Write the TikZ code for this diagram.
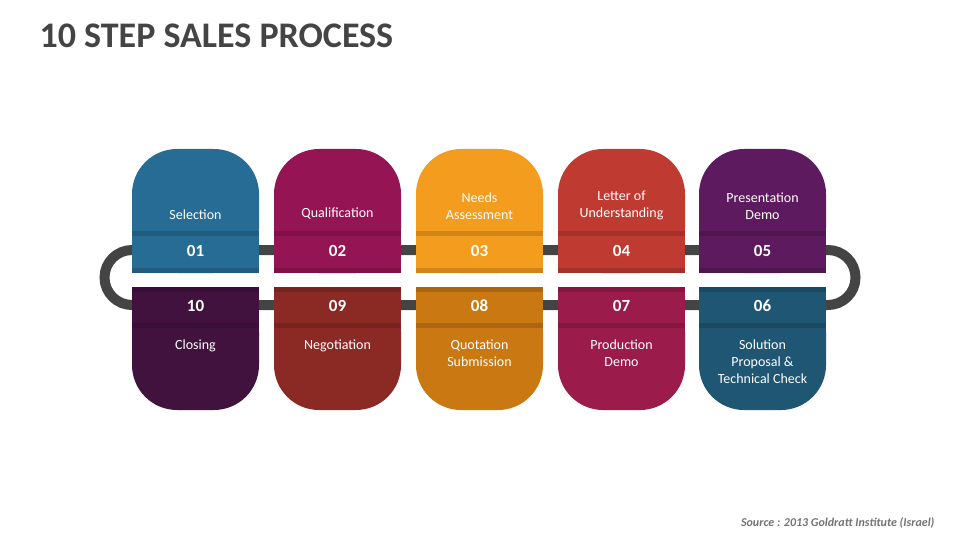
\documentclass[tikz,border=0pt]{standalone}
\usepackage{fontspec}
\setmainfont{Carlito}
\definecolor{track}{HTML}{444444}
\definecolor{cA}{HTML}{276C94}\definecolor{cB}{HTML}{951454}\definecolor{cC}{HTML}{F39C1E}
\definecolor{cD}{HTML}{BF3A30}\definecolor{cE}{HTML}{5E1A5E}
\definecolor{cJ}{HTML}{42123F}\definecolor{cI}{HTML}{8B2A24}\definecolor{cH}{HTML}{C97812}
\definecolor{cG}{HTML}{9B1B4A}\definecolor{cF}{HTML}{1F5673}
\tikzset{
  lbl/.style={text=white,font=\fontsize{14}{17}\selectfont,align=center},
  num/.style={text=white,font=\bfseries\fontsize{17}{19}\selectfont},
}
% top card: x, colour, number, label
\newcommand{\topcard}[4]{
  \fill[#2,rounded corners=45] (#1,149) rectangle ++(127,124);
  \fill[#2] (#1,200) rectangle ++(127,73);
  \fill[#2!85!black] (#1,231) rectangle ++(127,42);
  \fill[#2] (#1,236) rectangle ++(127,32);
  \node[num] (n#3) at (#1+63.5,251) {#3};
  \node[lbl,anchor=south] (l#3) at (#1+63.5,223) {#4};
}
% bottom card: x, colour, number, label
\newcommand{\botcard}[4]{
  \fill[#2,rounded corners=45] (#1,287) rectangle ++(127,123);
  \fill[#2] (#1,287) rectangle ++(127,73);
  \fill[#2!85!black] (#1,287) rectangle ++(127,41);
  \fill[#2] (#1,292) rectangle ++(127,31);
  \node[num] (n#3) at (#1+63.5,306) {#3};
  \node[lbl,anchor=north] (l#3) at (#1+63.5,336) {#4};
}
\begin{document}
\begin{tikzpicture}[x=1pt,y=-1pt]
\useasboundingbox (0,0) rectangle (960,540);

%title
\node[anchor=west,text=track,font=\bfseries\fontsize{36}{40}\selectfont] (title) at (36,36) {10 STEP SALES PROCESS};

%track
\draw[track,line width=10] (132,250) -- (828,250) arc (-90:90:27.5) -- (132,305) arc (90:270:27.5) -- cycle;

%cards
\topcard{132}{cA}{01}{Selection}
\topcard{274}{cB}{02}{Qualification}
\topcard{416}{cC}{03}{Needs\\Assessment}
\topcard{558}{cD}{04}{Letter of\\Understanding}
\topcard{699}{cE}{05}{Presentation\\Demo}
\botcard{132}{cJ}{10}{Closing}
\botcard{274}{cI}{09}{Negotiation}
\botcard{416}{cH}{08}{Quotation\\Submission}
\botcard{558}{cG}{07}{Production\\Demo}
\botcard{699}{cF}{06}{Solution\\Proposal \&\\Technical Check}

%source
\node[anchor=east,text=gray!90!black,font=\bfseries\itshape\fontsize{12}{14}\selectfont] (src) at (938,523) {Source : 2013 Goldratt Institute (Israel)};
\end{tikzpicture}
\end{document}
